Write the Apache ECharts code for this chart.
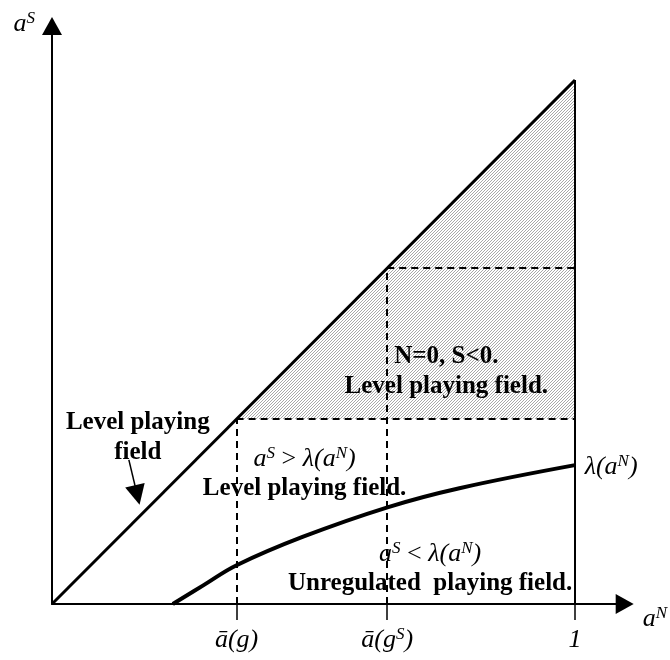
<!DOCTYPE html>
<html>
<head>
<meta charset="utf-8">
<script src="https://cdn.jsdelivr.net/npm/echarts@6/dist/echarts.min.js"></script>
<style>html,body{margin:0;padding:0;background:#fff}#c{width:670px;height:660px}</style>
</head>
<body>
<div id="c"></div>
<script>
// ---- data ----
const aBarG = 0.353;        // ā(g)
const aBarGS = 0.641;       // ā(g^S)
const xTickValues = [aBarG, aBarGS, 1];
const xTickLabels = ['{i|ā(g)}', '{i|ā(g}{sup|S}{i|)}', '{i|1}'];
const diagonal = [[0, 0], [1, 1]];
const lambdaCurve = [[0.231, 0], [0.29, 0.036], [0.353, 0.074], [0.479, 0.128], [0.643, 0.185], [0.779, 0.221], [1, 0.265]];
const shadedRegion = [[aBarG, aBarG], [1, 1], [1, aBarG]];
const dashedSegments = [
  [[aBarG, 0], [aBarG, aBarG]],
  [[aBarGS, 0], [aBarGS, aBarGS]],
  [[aBarG, aBarG], [1, aBarG]],
  [[aBarGS, aBarGS], [1, aBarGS]]
];
const solidSegments = [[[1, 0], [1, 1]]];
const arrowSegment = [[0.147, 0.275], [0.163, 0.208]];
const annotations = [
  {text: '{b|Level playing}\n{b|field}', x: 0.164, y: 0.317},
  {text: '{b|N=0, S<0.}\n{b|Level playing field.}', x: 0.754, y: 0.443},
  {text: '{i|a}{sup|S}{n| > }{i|λ(a}{sup|N}{i|)}\n{b|Level playing field.}', x: 0.483, y: 0.248},
  {text: '{i|a}{sup|S}{n| < }{i|λ(a}{sup|N}{i|)}\n{b|Unregulated  playing field.}', x: 0.723, y: 0.067},
  {text: '{i|λ(a}{sup|N}{i|)}', x: 1.008, y: 0.262}
];

// ---- styles ----
const FF = '"Liberation Serif", "Times New Roman", serif';
const rich = {
  i: {fontFamily: FF, fontStyle: 'italic', fontSize: 26, color: '#000', lineHeight: 30},
  n: {fontFamily: FF, fontSize: 26, color: '#000', lineHeight: 30},
  sup: {fontFamily: FF, fontStyle: 'italic', fontSize: 17, color: '#000', verticalAlign: 'top', lineHeight: 30, padding: [1, 0, 0, 0]},
  b: {fontFamily: FF, fontWeight: 'bold', fontSize: 25, color: '#000', lineHeight: 30}
};

function makePattern() {
  const c = document.createElement('canvas');
  c.width = 3; c.height = 3;
  const g = c.getContext('2d');
  g.fillStyle = '#ffffff'; g.fillRect(0, 0, 3, 3);
  g.fillStyle = '#a8a8a8';
  g.fillRect(0, 2, 1, 1); g.fillRect(1, 1, 1, 1); g.fillRect(2, 0, 1, 1);
  return c;
}
const pattern = {image: makePattern(), repeat: 'repeat'};

const chart = echarts.init(document.getElementById('c'), null, {renderer: 'canvas'});
const option = {
  backgroundColor: '#fff',
  animation: false,
  grid: {left: 52, right: 44, top: 26, bottom: 56, containLabel: false},
  xAxis: {
    type: 'value', min: 0, max: 1.095,
    splitLine: {show: false},
    axisLine: {show: true, lineStyle: {color: '#000', width: 2}, symbol: ['none', 'triangle'], symbolSize: [20, 18]},
    axisTick: {show: true, customValues: xTickValues, length: 16, inside: false, lineStyle: {color: '#000', width: 1.5}},
    axisLabel: {
      show: true, customValues: xTickValues, margin: 21, rich: rich,
      formatter: function (v) {
        let best = 0;
        for (let k = 0; k < xTickValues.length; k++) if (Math.abs(xTickValues[k] - v) < Math.abs(xTickValues[best] - v)) best = k;
        return xTickLabels[best];
      }
    },
    name: '{i|a}{sup|N}', nameLocation: 'end', nameGap: 18,
    nameTextStyle: {rich: rich, verticalAlign: 'top', align: 'left', padding: [0, 0, 0, 0]}
  },
  yAxis: {
    type: 'value', min: 0, max: 1.103,
    splitLine: {show: false},
    axisLine: {show: true, lineStyle: {color: '#000', width: 2}, symbol: ['none', 'triangle'], symbolSize: [20, 18]},
    axisTick: {show: false}, axisLabel: {show: false},
    name: '{i|a}{sup|S}', nameLocation: 'end', nameGap: 2,
    nameTextStyle: {rich: rich, align: 'right', verticalAlign: 'middle', padding: [0, 17, 0, 0]}
  },
  series: [
    {
      type: 'custom', silent: true, z: 1,
      data: [0],
      renderItem: function (params, api) {
        const pts = shadedRegion.map(p => api.coord(p));
        return {type: 'polygon', shape: {points: pts}, style: {fill: pattern, stroke: null}};
      }
    },
    {
      type: 'lines', coordinateSystem: 'cartesian2d', z: 3, silent: true,
      data: dashedSegments.map(s => ({coords: s})),
      lineStyle: {color: '#000', width: 2, type: [7, 5], opacity: 1}
    },
    {
      type: 'lines', coordinateSystem: 'cartesian2d', z: 3, silent: true,
      data: solidSegments.map(s => ({coords: s})),
      lineStyle: {color: '#000', width: 2, type: 'solid', opacity: 1}
    },
    {
      type: 'line', data: diagonal, showSymbol: false, z: 4, silent: true,
      lineStyle: {color: '#000', width: 3}
    },
    {
      type: 'line', data: lambdaCurve, showSymbol: false, smooth: 0.4, z: 4, silent: true,
      lineStyle: {color: '#000', width: 4}
    },
    {
      type: 'lines', coordinateSystem: 'cartesian2d', z: 5, silent: true,
      symbol: ['none', 'triangle'], symbolSize: [18, 20],
      data: [{coords: arrowSegment}],
      lineStyle: {color: '#000', width: 1.5, opacity: 1}
    },
    {
      type: 'scatter', z: 6, silent: true, symbolSize: 1,
      itemStyle: {color: 'rgba(255,255,255,0)', opacity: 1},
      data: annotations.map(a => ({value: [a.x, a.y], label: {formatter: a.text, align: a.x > 1 ? 'left' : 'center', position: a.x > 1 ? 'right' : 'inside'}})),
      label: {show: true, position: 'inside', rich: rich, align: 'center', verticalAlign: 'middle', color: '#000', opacity: 1}
    }
  ]
};
chart.setOption(option);
</script>
</body>
</html>
